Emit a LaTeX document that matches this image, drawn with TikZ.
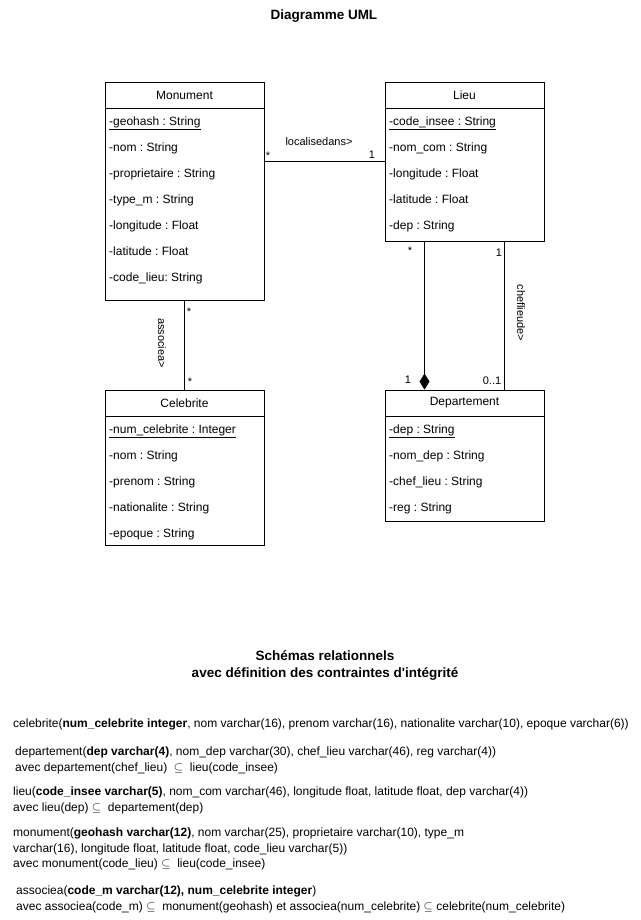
\documentclass[tikz,border=0pt]{standalone}
\usepackage{fontspec}
\setmainfont{Liberation Sans}
\usetikzlibrary{arrows.meta}
\frenchspacing

\tikzset{
  classbox/.style={draw, line width=0.8pt, minimum width=159pt, inner sep=0pt},
  headbox/.style={draw, line width=0.8pt, minimum width=159pt, minimum height=26pt, anchor=north, inner sep=0pt, font=\fontsize{12}{14}\selectfont},
  attr/.style={anchor=base west, yshift=-4.3pt, inner sep=0pt, font=\fontsize{12}{14}\selectfont},
  mult/.style={inner sep=0pt, font=\fontsize{11}{13}\selectfont},
  rel/.style={anchor=north west, inner sep=0pt, align=left, font=\fontsize{12}{15.5}\selectfont},
  titre/.style={inner sep=0pt, align=center, font=\bfseries\fontsize{13.5}{17}\selectfont},
  assoc/.style={line width=0.8pt},
  comp/.style={line width=0.8pt, -{Diamond[length=16pt,width=10pt]}},
}

\begin{document}
\begin{tikzpicture}[x=1pt,y=-1pt]
  \useasboundingbox (0,0) rectangle (640,920);

  \node [titre] (titreuml) at (324,16) {Diagramme UML};

  % classes
  \node [classbox, minimum height=218pt] (monument) at (184.5,191) {};
  \node [headbox] (monumenthead) at (monument.north) {Monument};
  \node [attr] (mon1) at (109,121) {\underline{-geohash : String}};
  \node [attr] (mon2) at (109,147) {-nom : String};
  \node [attr] (mon3) at (109,173) {-proprietaire : String};
  \node [attr] (mon4) at (109,199) {-type\_m : String};
  \node [attr] (mon5) at (109,225) {-longitude : Float};
  \node [attr] (mon6) at (109,251) {-latitude : Float};
  \node [attr] (mon7) at (109,277) {-code\_lieu: String};

  \node [classbox, minimum height=159pt] (lieu) at (464.5,161.5) {};
  \node [headbox] (lieuhead) at (lieu.north) {Lieu};
  \node [attr] (lieu1) at (389,121) {\underline{-code\_insee : String}};
  \node [attr] (lieu2) at (389,147) {-nom\_com : String};
  \node [attr] (lieu3) at (389,173) {-longitude : Float};
  \node [attr] (lieu4) at (389,199) {-latitude : Float};
  \node [attr] (lieu5) at (389,225) {-dep : String};

  \node [classbox, minimum height=155pt] (celebrite) at (184.5,467.5) {};
  \node [headbox] (celebritehead) at (celebrite.north) {Celebrite};
  \node [attr] (cel1) at (109,429) {\underline{-num\_celebrite : Integer}};
  \node [attr] (cel2) at (109,455) {-nom : String};
  \node [attr] (cel3) at (109,481) {-prenom : String};
  \node [attr] (cel4) at (109,507) {-nationalite : String};
  \node [attr] (cel5) at (109,533) {-epoque : String};

  \node [classbox, minimum height=131pt] (departement) at (464.5,455.5) {};
  \node [headbox] (departementhead) at (departement.north) {Departement};
  \node [attr] (dep1) at (389,429) {\underline{-dep : String}};
  \node [attr] (dep2) at (389,455) {-nom\_dep : String};
  \node [attr] (dep3) at (389,481) {-chef\_lieu : String};
  \node [attr] (dep4) at (389,507) {-reg : String};

  % associations
  \draw [assoc] (monument.east |- lieu.west) -- (lieu.west);
  \node [mult] (locnom) at (319,142) {localisedans>};
  \node [mult] (locm1) at (268,156) {*};
  \node [mult] (locm2) at (372,155) {1};

  \draw [assoc] (monument.south) -- (celebritehead.north);
  \node [mult, rotate=-90] (assocnom) at (162,343) {associea>};
  \node [mult] (assm1) at (189,312) {*};
  \node [mult] (assm2) at (190,382) {*};

  \draw [comp] ([xshift=-40pt]lieu.south) -- ([xshift=-40pt]departementhead.north);
  \node [mult] (compm1) at (410,251) {*};
  \node [mult] (compm2) at (408,380) {1};

  \draw [assoc] ([xshift=40pt]lieu.south) -- ([xshift=40pt]departementhead.north);
  \node [mult, rotate=-90] (chefnom) at (521,313) {cheflieude>};
  \node [mult] (chefm1) at (499,253) {1};
  \node [mult] (chefm2) at (492,381) {0..1};

  % schemas relationnels
  \node [titre] (titrerel) at (325,665.5) {Schémas relationnels\\avec définition des contraintes d\textquotesingle intégrité};

  \node [rel] (relcel) at (13,719) {celebrite(\textbf{num\_celebrite integer}, nom varchar(16), prenom varchar(16), nationalite varchar(10), epoque varchar(6))};
  \node [rel] (reldep) at (15,747) {departement(\textbf{dep varchar(4)}, nom\_dep varchar(30), chef\_lieu varchar(46), reg varchar(4))\\
    avec departement(chef\_lieu) \ $\subseteq$ \ lieu(code\_insee)};
  \node [rel] (rellieu) at (13,787) {lieu(\textbf{code\_insee varchar(5)}, nom\_com varchar(46), longitude float, latitude float, dep varchar(4))\\
    avec lieu(dep) $\subseteq$ \ departement(dep)};
  \node [rel] (relmon) at (13,828) {monument(\textbf{geohash varchar(12)}, nom varchar(25), proprietaire varchar(10), type\_m\\
    varchar(16), longitude float, latitude float, code\_lieu varchar(5))\\
    avec monument(code\_lieu) $\subseteq$ \ lieu(code\_insee)};
  \node [rel] (relass) at (16,886) {associea(\textbf{code\_m varchar(12), num\_celebrite integer})\\
    avec associea(code\_m) $\subseteq$ \ monument(geohash) et associea(num\_celebrite) $\subseteq$ celebrite(num\_celebrite)};
\end{tikzpicture}
\end{document}
